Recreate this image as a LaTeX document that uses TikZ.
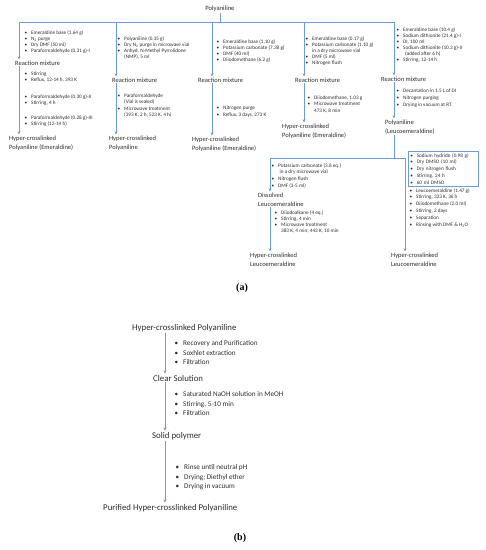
\documentclass[tikz,border=0pt]{standalone}
\usepackage{fontspec}
\setmainfont{Carlito}
\newfontfamily\labelfont{Liberation Serif}
\usepackage{tikz}
\usetikzlibrary{arrows.meta}

\definecolor{flowblue}{RGB}{112,156,212}
\definecolor{inktext}{RGB}{45,45,45}
\newcommand{\bitem}[2][6.5pt]{\makebox[#1][l]{\textbullet}#2}
\newcommand{\bcont}[2][6.5pt]{\hspace*{#1}#2}

\begin{document}
\begin{tikzpicture}[x=1pt, y=-1pt,
  every node/.style={text=inktext, inner sep=0pt},
  lst/.style={anchor=north west, align=left, font=\fontsize{5.2}{6.1}\selectfont},
  lstwide/.style={anchor=north west, align=left, font=\fontsize{5.2}{6.8}\selectfont},
  hd/.style={anchor=north west, align=left, inner sep=1pt, font=\fontsize{6.5}{8.8}\selectfont},
  lstb/.style={anchor=north west, align=left, font=\fontsize{7.2}{9.6}\selectfont},
  hdb/.style={anchor=base west, inner sep=1pt, font=\fontsize{8.8}{10}\selectfont},
  ln/.style={draw=flowblue, line width=0.6pt},
  arr/.style={draw=flowblue, line width=0.6pt, -{Stealth[length=3.2pt,width=3pt]}}]
\useasboundingbox (0,0) rectangle (486,550);

% (a) Polyaniline and the five routes
\node (pani) at (220,9) [inner sep=1pt, font=\fontsize{6.6}{8}\selectfont] {Polyaniline};
\coordinate (colA) at (19,22);
\coordinate (colB) at (116,22);
\coordinate (colC) at (212,22);
\coordinate (colD) at (304,22);
\coordinate (colE) at (394,22);
\draw[ln] (pani.south) -- (pani.south |- colA);
\draw[ln] (colA) -- (colE);

% Route 1
\node (listA1) at (24.5,30) [lst] {\bitem{Emeraldine base (1.64 g)}\\ \bitem{N\textsubscript{2} purge}\\ \bitem{Dry DMF (50 ml)}\\ \bitem{Paraformaldehyde (0.31 g)-I}};
\node (rmA) at (14,65.2) [hd, anchor=base west] {Reaction mixture};
\node (listA2) at (24.5,72) [lst] {\bitem{Stirring}\\ \bitem{Reflux, 12-14 h, 393 K}};
\node (listA3) at (24.5,94) [lst] {\bitem{Paraformaldehyde (0.30 g)-II}\\ \bitem{Stirring, 4 h}};
\node (listA4) at (24.5,115) [lst] {\bitem{Paraformaldehyde (0.28 g)-III}\\ \bitem{Stirring (12-14 h)}};
\node (hpA) at (8,134.5) [hd] {Hyper-crosslinked\\Polyaniline (Emeraldine)};

% Route 2
\node (listB1) at (117.5,36) [lst] {\bitem{Polyaniline (0.35 g)}\\ \bitem{Dry N\textsubscript{2} purge in microwave vial}\\ \bitem{Anhyd. N-Methyl Pyrrolidone}\\ \bcont{(NMP), 5 ml}};
\node (rmB) at (111,82.2) [hd, anchor=base west] {Reaction mixture};
\node (listB2) at (117.5,94) [lst] {\bitem{Paraformaldehyde}\\ \bcont{(Vial is sealed)}\\ \bitem{Microwave treatment}\\ \bcont{(393 K, 2 h; 523 K, 4 h)}};
\node (hpB) at (108,134.5) [hd] {Hyper-crosslinked\\Polyaniline};

% Route 3
\node (listC1) at (216.5,39) [lst] {\bitem{Emeraldine base (1.10 g)}\\ \bitem{Potassium carbonate (7.38 g)}\\ \bitem{DMF (40 ml)}\\ \bitem{Diiodomethane (6.2 g)}};
\node (rmC) at (197,82.2) [hd, anchor=base west] {Reaction mixture};
\node (listC2) at (216.5,106) [lstwide] {\bitem{Nitrogen purge}\\ \bitem{Reflux, 3 days, 273 K}};
\node (hpC) at (191,135.5) [hd] {Hyper-crosslinked\\Polyaniline (Emeraldine)};

% Route 4
\node (listD1) at (305.5,36) [lst] {\bitem{Emeraldine base (0.17 g)}\\ \bitem{Potassium carbonate (1.10 g)}\\ \bcont{in a dry microwave vial}\\ \bitem{DMF (5 ml)}\\ \bitem{Nitrogen flush}};
\node (rmD) at (294,82.2) [hd, anchor=base west] {Reaction mixture};
\node (listD2) at (307.5,96) [lst] {\bitem{Diiodomethane,\ 1.03 g}\\ \bitem{Microwave treatment}\\ \bcont{473 K, 8 min}};
\node (hpD) at (281,122.5) [hd] {Hyper-crosslinked\\Polyaniline (Emeraldine)};

% Route 5
\node (listE1) at (396.5,27) [lst] {\bitem{Emeraldine base (10.4 g)}\\ \bitem{Sodium dithionite (21.4 g)-I}\\ \bitem{DI, 100 ml}\\ \bitem{Sodium dithionite (10.3 g)-II}\\ \bcont[8.5pt]{(added after 6 h)}\\ \bitem{Stirring, 12-14 h}};
\node (rmE) at (380,81.2) [hd, anchor=base west] {Reaction mixture};
\node (listE2) at (396.5,89) [lstwide] {\bitem{Decantation in 1.5 L of DI}\\ \bitem{Nitrogen purging}\\ \bitem{Drying in vacuum at RT}};
\node (leuE) at (384,118.5) [hd] {Polyaniline\\(Leucoemeraldine)};

% Arrows of the five routes
\foreach \c/\r/\h in {colA/rmA/hpA, colB/rmB/hpB, colC/rmC/hpC, colD/rmD/hpD, colE/rmE/leuE} {
  \draw[arr] (\c) -- (\c |- \r.north);
  \draw[arr] (\c |- \r.south) -- (\c |- \h.north);
}

% Leucoemeraldine branches
\coordinate (brL) at (270,158);
\coordinate (brR) at (405,158);
\node (listF1) at (271.5,163) [lstwide] {\bitem{Potassium carbonate (3.8 eq.)}\\ \bcont[8pt]{in a dry microwave vial}\\ \bitem{Nitrogen flush}\\ \bitem{DMF (3-5 ml)}};
\node (dsL) at (257,191.5) [hd] {Dissolved\\Leucoemeraldine};
\node (listF2) at (274.5,210) [lst] {\bitem{Diiodoalkane (4 eq.)}\\ \bitem{Stirring, 4 min}\\ \bitem{Microwave treatment}\\ \bcont{383 K, 4 min; 443 K, 10 min}};
\node (hlL) at (249,251.5) [hd] {Hyper-crosslinked\\Leucoemeraldine};

\node (boxG) at (408,151) [draw=flowblue, line width=0.6pt, anchor=north west, align=left, text width=66pt, inner xsep=2pt, inner ysep=2pt, font=\fontsize{5.2}{6.75}\selectfont] {\bitem{Sodium hydride (0.98 g)}\\ \bitem{Dry DMSO (10 ml)}\\ \bitem{Dry nitrogen flush}\\ \bitem{Stirring, 24 h}\\ \bitem{60 ml DMSO}};
\node (listG) at (409.5,188) [lstwide] {\bitem{Leucoemeraldine (1.47 g)}\\ \bitem{Stirring, 333 K, 36 h}\\ \bitem{Diiodomethane (2.0 ml)}\\ \bitem{Stirring, 2 days}\\ \bitem{Separation}\\ \bitem{Rinsing with DMF \& H\textsubscript{2}O}};
\node (hlR) at (390,251.5) [hd] {Hyper-crosslinked\\Leucoemeraldine};

\draw[ln] (colE |- leuE.south) -- (colE |- brL);
\draw[ln] (brL) -- (brR);
\draw[arr] (brL) -- (brL |- dsL.north);
\draw[arr] (brL |- dsL.south) -- (brL |- hlL.north);
\draw[arr] (brR) -- (brR |- hlR.north);

\node (labA) at (242,288) [font=\labelfont\bfseries\fontsize{10}{12}\selectfont, text=black] {(a)};

% (b) Purification
\coordinate (axis) at (165,330);
\node (hb1) at (131,330) [hdb] {Hyper-crosslinked Polyaniline};
\node (lb1) at (174.5,340.2) [lstb] {\bitem[8.5pt]{Recovery and Purification}\\ \bitem[8.5pt]{Soxhlet extraction}\\ \bitem[8.5pt]{Filtration}};
\node (hb2) at (152,381) [hdb] {Clear Solution};
\node (lb2) at (174.5,391.2) [lstb] {\bitem[8.5pt]{Saturated NaOH solution in MeOH}\\ \bitem[8.5pt]{Stirring, 5-10 min}\\ \bitem[8.5pt]{Filtration}};
\node (hb3) at (151,438) [hdb] {Solid polymer};
\node (lb3) at (175.5,464.2) [lstb] {\bitem[8.5pt]{Rinse until neutral pH}\\ \bitem[8.5pt]{Drying; Diethyl ether}\\ \bitem[8.5pt]{Drying in vacuum}};
\node (hb4) at (102,510) [hdb] {Purified Hyper-crosslinked Polyaniline};

\draw[arr] (axis |- hb1.south) -- (axis |- hb2.north);
\draw[arr] (axis |- hb2.south) -- (axis |- hb3.north);
\draw[arr] (axis |- hb3.south) -- (axis |- hb4.north);

\node (labB) at (240,538) [font=\labelfont\bfseries\fontsize{10}{12}\selectfont, text=black] {(b)};
\end{tikzpicture}
\end{document}
